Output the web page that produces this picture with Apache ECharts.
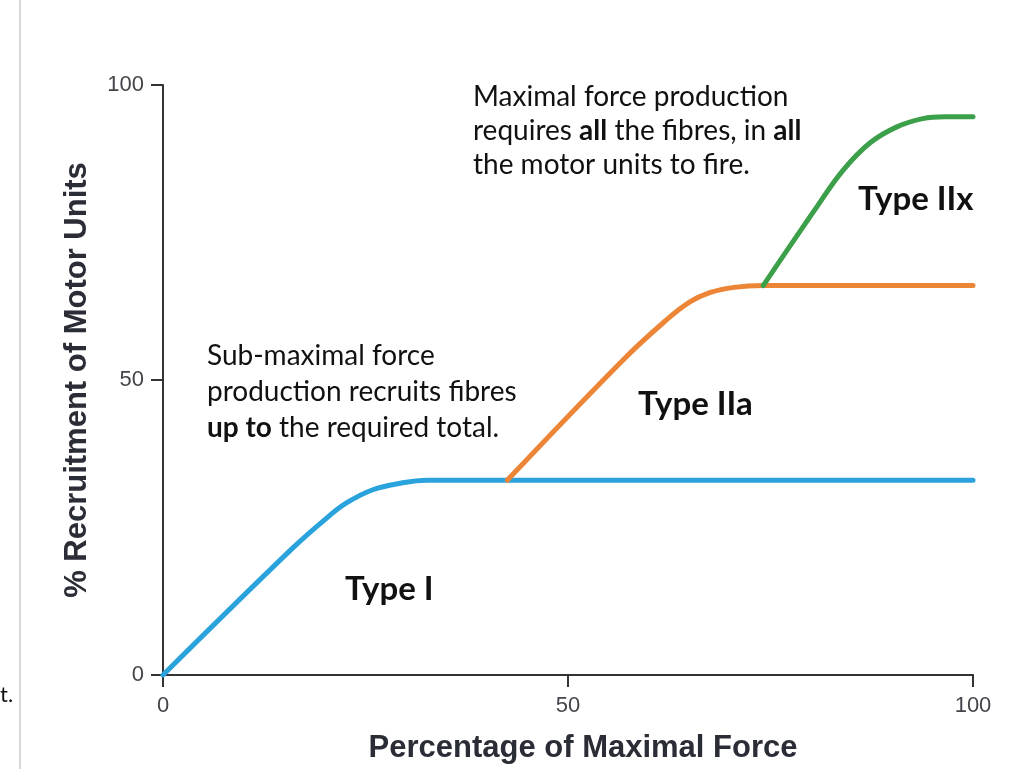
<!DOCTYPE html>
<html>
<head>
<meta charset="utf-8">
<script src="https://cdn.jsdelivr.net/npm/echarts@6/dist/echarts.min.js"></script>
<style>
html,body{margin:0;padding:0;background:#fff;}
#chart{width:1011px;height:769px;}
</style>
</head>
<body>
<div id="chart"></div>
<script>
// Data (x = % of maximal force, y = % recruitment)
const typeI   = [[0,0],[16.0,21.5],[20.2,26.6],[22.7,29.2],[25.9,31.4],[29.3,32.5],[32.6,33.0],[100,33.0]];
const typeIIa = [[42.5,33.0],[56.8,53.4],[62.0,60.0],[65.0,63.2],[67.5,64.8],[70.5,65.7],[74.1,66.0],[100,66.0]];
const typeIIx = [[74.1,66.0],[80.7,79.3],[84.0,85.6],[87.3,90.2],[90.6,92.9],[93.8,94.3],[96.5,94.6],[100,94.6]];
const xTicks = [0, 50, 100];
const yTicks = [0, 50, 100];
const xTitle = 'Percentage of Maximal Force';
const yTitle = '% Recruitment of Motor Units';

const chart = echarts.init(document.getElementById('chart'), null, {renderer:'canvas'});
const axisCol = '#333';
const tickFont = {color:'#44444a', fontSize:22, fontFamily:'Liberation Sans, Arial, sans-serif'};
const annoFont = 'Lato, "Open Sans", sans-serif';
const titleStyle = {fontSize:31, fontWeight:'bold', color:'#2b2d36', fontFamily:'Liberation Sans, Arial, sans-serif'};

function lineSeries(name, data, color){
  return {
    name, type:'line', data, smooth:0.4, symbol:'none',
    lineStyle:{color, width:5, cap:'round'}, z:3
  };
}

chart.setOption({
  backgroundColor:'#fff',
  animation:false,
  grid:{left:163, right:38, top:85, bottom:94, containLabel:false},
  xAxis:{
    type:'value', min:xTicks[0], max:xTicks[xTicks.length-1], interval:50,
    name:xTitle, nameLocation:'middle', nameGap:58,
    nameTextStyle:Object.assign({padding:[0,0,0,30]}, titleStyle),
    axisLine:{show:true, lineStyle:{color:axisCol, width:2}},
    axisTick:{show:true, length:12, lineStyle:{color:axisCol, width:2}},
    axisLabel:Object.assign({margin:20}, tickFont),
    splitLine:{show:false}
  },
  yAxis:{
    type:'value', min:yTicks[0], max:yTicks[yTicks.length-1], interval:50,
    name:yTitle, nameLocation:'middle', nameGap:70, nameTextStyle:titleStyle,
    axisLine:{show:true, lineStyle:{color:axisCol, width:2}},
    axisTick:{show:true, length:12, lineStyle:{color:axisCol, width:2}},
    axisLabel:Object.assign({margin:19}, tickFont),
    splitLine:{show:false}
  },
  series:[
    lineSeries('Type I', typeI, '#2aa3dc'),
    lineSeries('Type IIa', typeIIa, '#ec8536'),
    lineSeries('Type IIx', typeIIx, '#3c9f4a')
  ],
  graphic:[
    {type:'line', shape:{x1:20, y1:0, x2:20, y2:769}, style:{stroke:'#d8d8d8', lineWidth:2}, silent:true},
    {type:'text', left:0, top:684, style:{text:'t.', font:'22px ' + annoFont, fill:'#111'}},
    {type:'text', left:207, top:338, style:{
      text:'Sub-maximal force\nproduction recruits fibres\n{b|up to} the required total.',
      font:'28px ' + annoFont, fill:'#111', lineHeight:36,
      rich:{b:{fontWeight:'bold', fontSize:28, fontFamily:annoFont, fill:'#111', lineHeight:36}}
    }},
    {type:'text', left:473, top:80, style:{
      text:'Maximal force production\nrequires {b|all} the fibres, in {b|all}\nthe motor units to fire.',
      font:'28px ' + annoFont, fill:'#111', lineHeight:34,
      rich:{b:{fontWeight:'bold', fontSize:28, fontFamily:annoFont, fill:'#111', lineHeight:34}}
    }},
    {type:'text', left:345, top:573, style:{text:'Type I', font:'bold 33px ' + annoFont, fill:'#111'}},
    {type:'text', left:638, top:388, style:{text:'Type IIa', font:'bold 33px ' + annoFont, fill:'#111'}},
    {type:'text', left:858, top:183, style:{text:'Type IIx', font:'bold 33px ' + annoFont, fill:'#111'}}
  ]
});
</script>
</body>
</html>
